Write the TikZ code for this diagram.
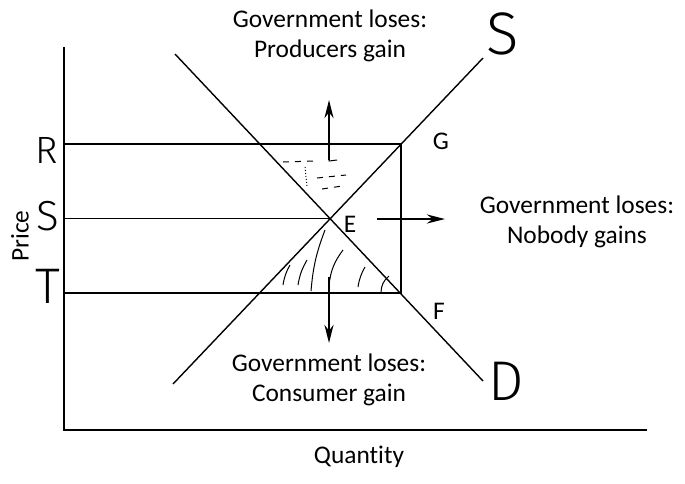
\documentclass[tikz,border=0pt]{standalone}
\usepackage{fontspec}
\setmainfont{Carlito}[Ligatures=NoCommon]
\newfontfamily\handfont{Fira Sans Light}
\usetikzlibrary{positioning, arrows.meta}

\begin{document}
\begin{tikzpicture}[x=0.5pt, y=-0.5pt, line width=0.8pt]
\tikzstyle{caption} = [font=\fontsize{12.7}{15}\selectfont, align=center, inner sep=0pt]
\tikzstyle{hand} = [inner sep=0pt]
\tikzstyle{line} = [draw, line width=0.7pt, -{Stealth[length=3.2mm, width=1.6mm]}]
\tikzstyle{hatch} = [draw, line width=0.5pt]

\useasboundingbox (0,0) rectangle (685,483);

% axes
\coordinate (O) at (64,430);
\coordinate (ytop) at (64,47);
\coordinate (xend) at (647,430);
\draw (ytop) -- (O) -- (xend);

% demand and supply
\coordinate (d0) at (175,54);
\coordinate (d1) at (483,381);
\coordinate (s0) at (173,384);
\coordinate (s1) at (483,58);
\coordinate (G) at (401,144);
\coordinate (F) at (401,293);
\coordinate (E) at (intersection of d0--F and s0--G);
\draw[line width=0.7pt] (d0) -- (d1);
\draw[line width=0.7pt] (s0) -- (s1);

% price levels
\coordinate (pR) at (O |- G);
\coordinate (pS) at (O |- E);
\coordinate (pT) at (O |- F);
\draw (pR) -- (G) -- (F) -- (pT);
\draw (pS) -- (E);

% shading
\path[hatch, dashed] (283,162) -- (315,161);
\path[hatch, dashed] (317,178) -- (346,175);
\path[hatch, dashed] (322,189) -- (342,186);
\path[hatch, densely dotted] (305,167) -- (307,187);
\path[hatch] (329,157) -- (329,161) -- (337,160);
\path[hatch] (283,285) to[bend left=10] (290,265);
\path[hatch] (298,285) to[bend left=10] (307,260);
\path[hatch] (311,291) to[bend left=8] (325,230);
\path[hatch] (329,285) to[bend left=15] (343,250);
\path[hatch] (358,287) to[bend left=10] (365,267);
\path[hatch] (381,293) to[bend left=25] (389,276);

% arrows
\coordinate (upbase) at (329,160);
\coordinate (uptip) at (329,100);
\coordinate (rbase) at (377,219);
\coordinate (rtip) at (445,219);
\coordinate (dbase) at (329,277);
\coordinate (dtip) at (329,343);
\path[line] (upbase) -- (uptip);
\path[line] (rbase) -- (rtip);
\path[line] (dbase) -- (dtip);

% texts
\node[caption] (prod) at (330,36) {Government loses:\\Producers gain};
\node[caption] (nobody) at (577,222) {Government loses:\\Nobody gains};
\node[caption] (cons) at (329,380) {Government loses:\\Consumer gain};
\node[caption, anchor=base] (qty) at (359,463) {Quantity};
\node[caption, rotate=90] (price) at (20,236) {Price};
\node[caption] (lE) at (350,224) {E};
\node[caption] (lG) at (441,141) {G};
\node[caption] (lF) at (439,311) {F};

% handwritten letters
\node[hand, font=\handfont\fontsize{30}{30}\selectfont] (lS) at (503,34) {S};
\node[hand, font=\handfont\fontsize{28}{28}\selectfont] (lD) at (506,381) {D};
\node[hand, font=\handfont\fontsize{19}{19}\selectfont] (pRl) at (47,150) {R};
\node[hand, font=\handfont\fontsize{21}{21}\selectfont] (pSl) at (48,216) {S};
\node[hand, font=\handfont\fontsize{25}{25}\selectfont] (pTl) at (48,286) {T};
\end{tikzpicture}
\end{document}
